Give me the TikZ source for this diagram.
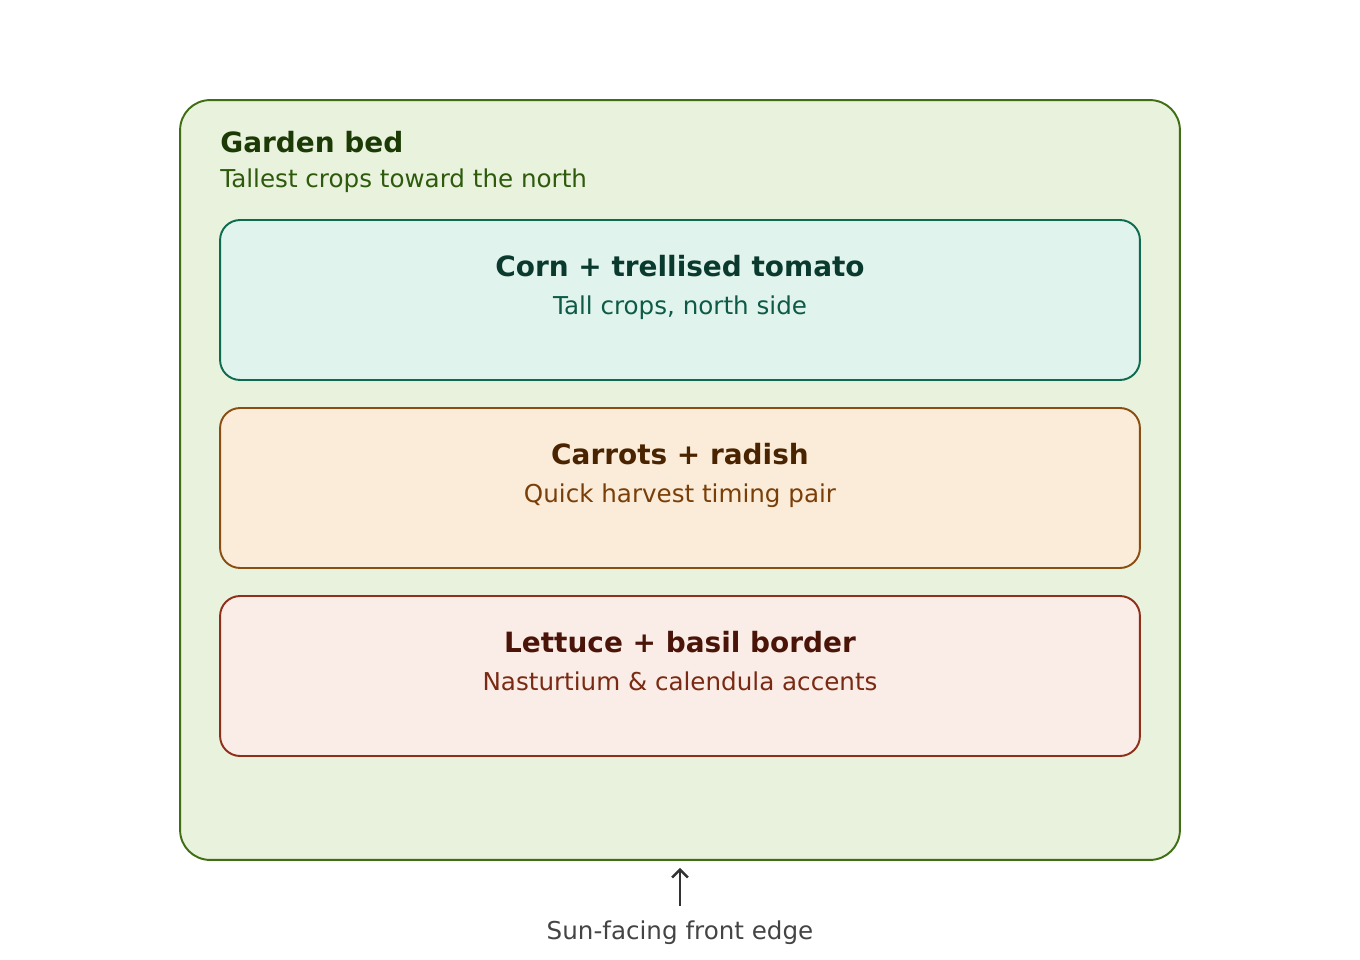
\documentclass[tikz,border=0pt]{standalone}
\usepackage{fontspec}
\setmainfont{DejaVu Sans}
\usetikzlibrary{positioning,arrows.meta}
\definecolor{bedfill}{HTML}{E9F2DD}
\definecolor{bedline}{HTML}{3F6F12}
\definecolor{bedhead}{HTML}{1C3A05}
\definecolor{bedsub}{HTML}{2E5A0C}
\definecolor{tallfill}{HTML}{E0F3EC}
\definecolor{tallline}{HTML}{0E6B50}
\definecolor{tallhead}{HTML}{0A3A2E}
\definecolor{tallsub}{HTML}{0E5A46}
\definecolor{rootfill}{HTML}{FAECD9}
\definecolor{rootline}{HTML}{8A4E12}
\definecolor{roothead}{HTML}{4A2400}
\definecolor{rootsub}{HTML}{7A3E08}
\definecolor{lowfill}{HTML}{FAECE7}
\definecolor{lowline}{HTML}{8F2F1A}
\definecolor{lowhead}{HTML}{4A1508}
\definecolor{lowsub}{HTML}{7A2A12}
\definecolor{notegray}{HTML}{444444}
\tikzset{
  bedbox/.style={draw=bedline, fill=bedfill, line width=1.1pt, rounded corners=0.6cm,
    minimum width=20cm, minimum height=15.2cm, inner sep=0pt},
  rowbox/.style={line width=1.1pt, rounded corners=0.4cm,
    minimum width=18.4cm, minimum height=3.2cm, inner sep=0pt},
  headtext/.style={font=\fontsize{15.9}{19}\selectfont\bfseries, inner sep=0pt},
  subtext/.style={font=\fontsize{14}{17}\selectfont, inner sep=0pt},
}
\begin{document}
\begin{tikzpicture}[x=0.02cm, y=-0.02cm]
		%%%%% START %%%%%
		\useasboundingbox (0, 0) rectangle (1360, 960);
		
		\node[bedbox] (bed) at (680, 480) {};
		\node[headtext, text=bedhead, anchor=base west] (bedtitle) at (220, 152) {Garden bed};
		\node[subtext, text=bedsub, anchor=base west] (bednote) at (220, 187) {Tallest crops toward the north};
		
		% rows, north to south
		\node[rowbox, draw=tallline, fill=tallfill] (tall) at (680, 300) {};
		\node[headtext, text=tallhead, anchor=base] (talltitle) at (680, 276) {Corn + trellised tomato};
		\node[subtext, text=tallsub, anchor=base] (tallnote) at (680, 314) {Tall crops, north side};
		
		\node[rowbox, draw=rootline, fill=rootfill] (root) at (680, 488) {};
		\node[headtext, text=roothead, anchor=base] (roottitle) at (680, 464) {Carrots + radish};
		\node[subtext, text=rootsub, anchor=base] (rootnote) at (680, 502) {Quick harvest timing pair};
		
		\node[rowbox, draw=lowline, fill=lowfill] (low) at (680, 676) {};
		\node[headtext, text=lowhead, anchor=base] (lowtitle) at (680, 652) {Lettuce + basil border};
		\node[subtext, text=lowsub, anchor=base] (lownote) at (680, 690) {Nasturtium \& calendula accents};
		
		% sun side
		\node[subtext, text=notegray, anchor=base] (sun) at (680, 939) {Sun-facing front edge};
		\draw[-{Straight Barb[length=4.5pt, width=9pt]}, line width=1.4pt, color=black!80,
		  shorten <=8pt, shorten >=4pt] (sun.north) -- (bed.south);
		%%%%% END %%%%%
\end{tikzpicture}
\end{document}
